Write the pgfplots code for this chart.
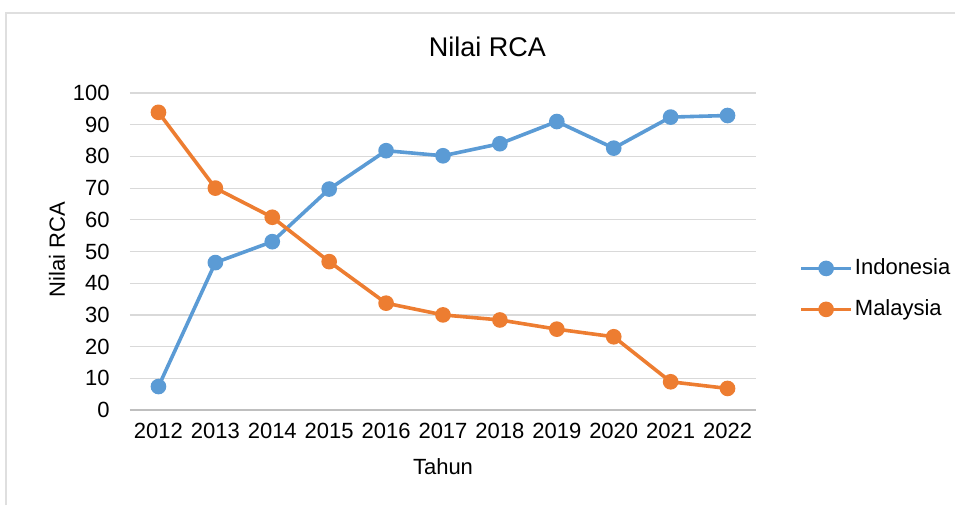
\documentclass[border=0pt]{standalone}
\usepackage{fontspec}
\setmainfont{Liberation Sans}
\usepackage{pgfplots}
\pgfplotsset{compat=1.18}
\definecolor{cblue}{HTML}{5B9BD5}
\definecolor{corange}{HTML}{ED7D31}
\definecolor{cgrid}{HTML}{D9D9D9}
\definecolor{caxis}{HTML}{BFBFBF}
\begin{document}
\begin{tikzpicture}
\useasboundingbox (0,0) rectangle (477.5pt,252.5pt);
\draw[gray!25, line width=1pt] (3pt,0pt) -- (3pt,246pt) -- (477.5pt,246pt);
\node[font=\fontsize{13.5}{16}\selectfont] at (243.75pt,229pt) {Nilai RCA};
\begin{axis}[
  at={(65pt,47.5pt)}, anchor=south west,
  scale only axis, width=313pt, height=158.5pt,
  xmin=-0.5, xmax=10.5, ymin=0, ymax=100,
  xtick={0,...,10},
  xticklabels={2012,2013,2014,2015,2016,2017,2018,2019,2020,2021,2022},
  ytick={0,10,...,100},
  major x tick style={draw=none},
  extra x ticks={-0.5,0.5,...,10.5},
  extra x tick labels={},
  extra x tick style={tick align=outside, major tick length=3pt, tick style={draw=caxis, line width=0.6pt}},
  y tick style={draw=none},
  axis x line*=bottom, axis y line*=left,
  x axis line style={draw=caxis, line width=0.6pt},
  y axis line style={draw=none},
  ymajorgrids, grid style={draw=cgrid, line width=0.6pt},
  /pgf/number format/assume math mode=true,
  tick label style={font=\fontsize{11}{13}\selectfont},
  xticklabel style={anchor=center, yshift=-10.5pt},
  yticklabel style={anchor=east, inner sep=0pt, xshift=-10pt},
  xlabel={Tahun}, ylabel={Nilai RCA},
  label style={font=\fontsize{11}{13}\selectfont},
  xlabel style={at={(axis description cs:0.5,-0.18)}, anchor=center},
  ylabel style={at={(axis description cs:-0.1166,0.505)}, anchor=center},
  legend style={at={(axis description cs:1.059,0.382)}, anchor=west, draw=none, fill=none,
    font=\fontsize{11}{13}\selectfont, row sep=9pt,
    nodes={inner sep=1pt, anchor=west}},
  legend cell align=left,
  legend image code/.code={\draw[mark repeat=2,mark phase=2,#1] plot coordinates {(0pt,0pt)(12.5pt,0pt)(25pt,0pt)};},
  every axis plot/.append style={line width=1.8pt, mark=*, mark size=3pt},
]
\addplot[color=cblue, mark options={fill=cblue, draw=cblue}] coordinates {
(0,7.4)(1,46.5)(2,53.1)(3,69.7)(4,81.8)(5,80.2)(6,84.0)(7,91.0)(8,82.6)(9,92.4)(10,92.9)};
\addlegendentry{Indonesia}
\addplot[color=corange, mark options={fill=corange, draw=corange}] coordinates {
(0,93.9)(1,70.0)(2,60.8)(3,46.8)(4,33.7)(5,30.0)(6,28.4)(7,25.5)(8,23.1)(9,8.9)(10,6.8)};
\addlegendentry{Malaysia}
\end{axis}
\end{tikzpicture}
\end{document}
